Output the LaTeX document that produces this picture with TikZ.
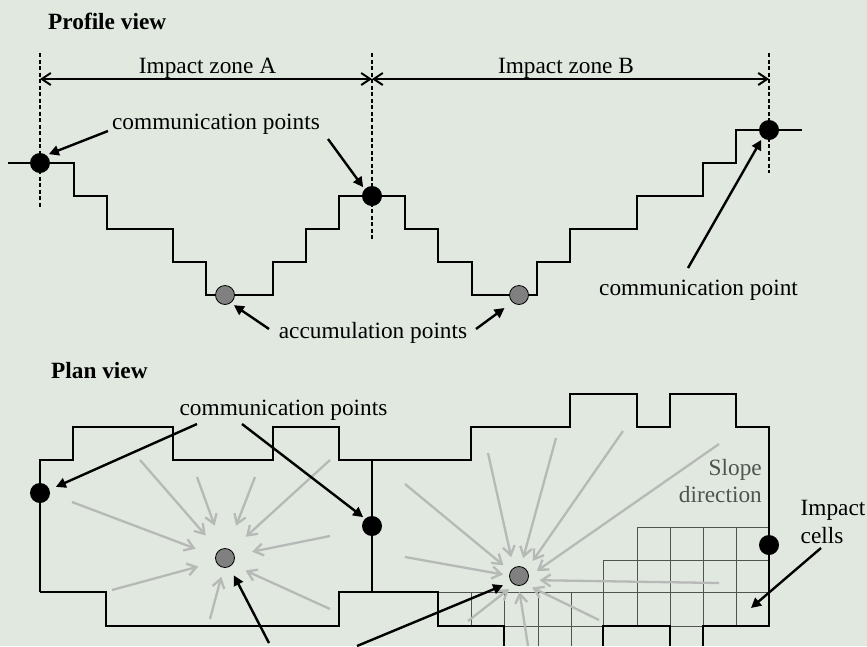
\documentclass[tikz,border=0pt]{standalone}
\usepackage{fontspec}
\setmainfont{Liberation Serif}
\usetikzlibrary{arrows.meta}
\definecolor{paleback}{HTML}{E0E8E0}
\definecolor{slopegrey}{HTML}{B7B9B6}
\definecolor{cellgrey}{HTML}{505350}
\tikzset{
	lbl/.style={font=\fontsize{23.3}{27.5}\selectfont, inner sep=0pt, anchor=base},
	commdot/.style={circle, fill=black, inner sep=0pt, minimum size=20pt, outer sep=2.5pt},
	accdot/.style={circle, fill=gray, draw=black, line width=0.8pt, inner sep=0pt, minimum size=19pt, outer sep=3pt},
	edgeline/.style={line width=2pt, line join=miter},
	cellline/.style={line width=1pt, cellgrey},
	guide/.style={line width=1.5pt, dash pattern=on 4pt off 2.5pt},
	span/.style={line width=2pt, {Straight Barb[length=9pt,width=12pt]}-{Straight Barb[length=9pt,width=12pt]}},
	pointer/.style={line width=2.4pt, -{Triangle[length=10pt,width=10pt]}},
	slopearrow/.style={line width=2.3pt, slopegrey, -{Straight Barb[length=9pt,width=12pt]}}
}
\begin{document}
\begin{tikzpicture}[x=1pt,y=-1pt]
	\useasboundingbox (0,0) rectangle (867,646);
	\fill[paleback] (0,0) rectangle (867,646);

	\node[lbl, anchor=base west, font=\fontsize{23.3}{27.5}\selectfont\bfseries] (profileview) at (48,29) {Profile view};
	\node[lbl] (zoneA) at (207.5,73) {Impact zone A};
	\node[lbl] (zoneB) at (566,73) {Impact zone B};
	\node[lbl] (commtop) at (216,129) {communication points};
	\node[lbl] (acctop) at (373,338) {accumulation points};
	\node[lbl] (commright) at (698.5,295) {communication point};
	\node[lbl, anchor=base west, font=\fontsize{23.3}{27.5}\selectfont\bfseries] (planview) at (51,378) {Plan view};
	\node[lbl] (commplan) at (283.5,415) {communication points};
	\node[lbl, anchor=base east, text=cellgrey] (slopeA) at (762,475) {Slope};
	\node[lbl, anchor=base east, text=cellgrey] (slopeB) at (762,502) {direction};
	\node[lbl, anchor=base west] (cellsA) at (800.5,515) {Impact};
	\node[lbl, anchor=base west] (cellsB) at (800.5,543) {cells};

	\foreach \gx/\gb in {40/207,372/240,769/173}
		\draw[guide] (\gx,53) -- (\gx,\gb);
	\coordinate (spanA) at (40,79);
	\coordinate (spanB) at (372,79);
	\coordinate (spanC) at (769,79);
	\draw[span] (spanA) -- (spanB);
	\draw[span] (spanB) -- (spanC);

	\draw[edgeline] (8,163) -| (74,196) -| (107,229) -| (173,262) -| (206,295) -| (273,262) -| (306,229) -| (339,196)
		-| (405,229) -| (438,262) -| (472,295) -| (537,262) -| (570,229) -| (637,196) -| (703,163) -| (736,130) -- (802,130);

	\node[commdot] (profA) at (40,163) {};
	\node[commdot] (profB) at (372,196) {};
	\node[commdot] (profC) at (769,130) {};
	\node[accdot] (profD) at (225,295) {};
	\node[accdot] (profE) at (519,295) {};

	\coordinate (ptA) at (108,131);
	\coordinate (ptB) at (328,139);
	\coordinate (ptC) at (269,329);
	\coordinate (ptD) at (476,329);
	\coordinate (ptE) at (688,268);
	\draw[pointer] (ptA) -- (profA.45);
	\draw[pointer] (ptB) -- (profB.135);
	\draw[pointer, shorten >=1pt] (ptC) -- (profD.-50);
	\draw[pointer, shorten >=7pt] (ptD) -- (profE.225);
	\draw[pointer] (ptE) -- (profC.232);

	\foreach \gy/\gl in {527/637,560/603,592/438}
		\draw[cellline] (\gl,\gy) -- (769,\gy);
	\draw[cellline] (504,626) -- (603,626);
	\draw[cellline] (670,626) -- (703,626);
	\foreach \gx/\gt/\gb in {471/592/626,504/592/626,538/592/646,571/592/646,603/560/626,637/527/626,670/527/626,703/527/626,736/527/626}
		\draw[cellline] (\gx,\gt) -- (\gx,\gb);

	\draw[edgeline] (40,592) |- (73,460) |- (173,427) |- (273,460) |- (339,427) |- (471,460) |- (570,427) |- (637,394) |- (670,427) |- (736,394) |- (769,427) -- (769,626) -- (703,626) -- (703,646);
	\draw[edgeline] (40,592) -| (106,626) -| (339,592) -- (438,592) |- (504,626) -- (504,646);
	\draw[edgeline] (603,646) |- (670,626) -- (670,646);
	\draw[edgeline] (372,460) -- (372,592);

	\node[commdot] (planA) at (40,493) {};
	\node[commdot] (planB) at (372,526) {};
	\node[commdot] (planC) at (769,545) {};
	\node[accdot] (planD) at (225,558) {};
	\node[accdot] (planE) at (519,576) {};

	\foreach \sx/\sy/\sa/\sg in {72/502/167/18.3,140/460/130/17.3,197/477/104/21.5,255/477/75/21.7,330/460/50/17.3,330/536/15/15.4,330/609/-38/11.7,210/619/-99/6.7,112/590/-159/15.4}
		\draw[slopearrow, shorten >=\sg pt] (\sx,\sy) -- (planD.\sa);
	\foreach \sx/\sy/\sa/\sg in {405/484/148/6.4,488/453/119/8.1,556/438/78/5.9,623/431/43/8,719/444/6/6.6,719/583/-19/8.7,599/620/-47/5.2,528/646/-90/3.5,468/621/-123/4.1,405/557/176/3.5}
		\draw[slopearrow, shorten >=\sg pt] (\sx,\sy) -- (planE.\sa);

	\coordinate (ptF) at (197,424);
	\coordinate (ptG) at (242,424);
	\coordinate (ptH) at (269,643);
	\coordinate (ptI) at (357,646);
	\coordinate (ptJ) at (821,548);
	\coordinate (ptK) at (751,608);
	\draw[pointer, shorten >=4.5pt] (ptF) -- (planA.20);
	\draw[pointer] (ptG) -- (planB.135);
	\draw[pointer, shorten >=7pt] (ptH) -- (planD.-63);
	\draw[pointer, shorten >=6pt] (ptI) -- (planE.214);
	\draw[pointer] (ptJ) -- (ptK);
\end{tikzpicture}
\end{document}
